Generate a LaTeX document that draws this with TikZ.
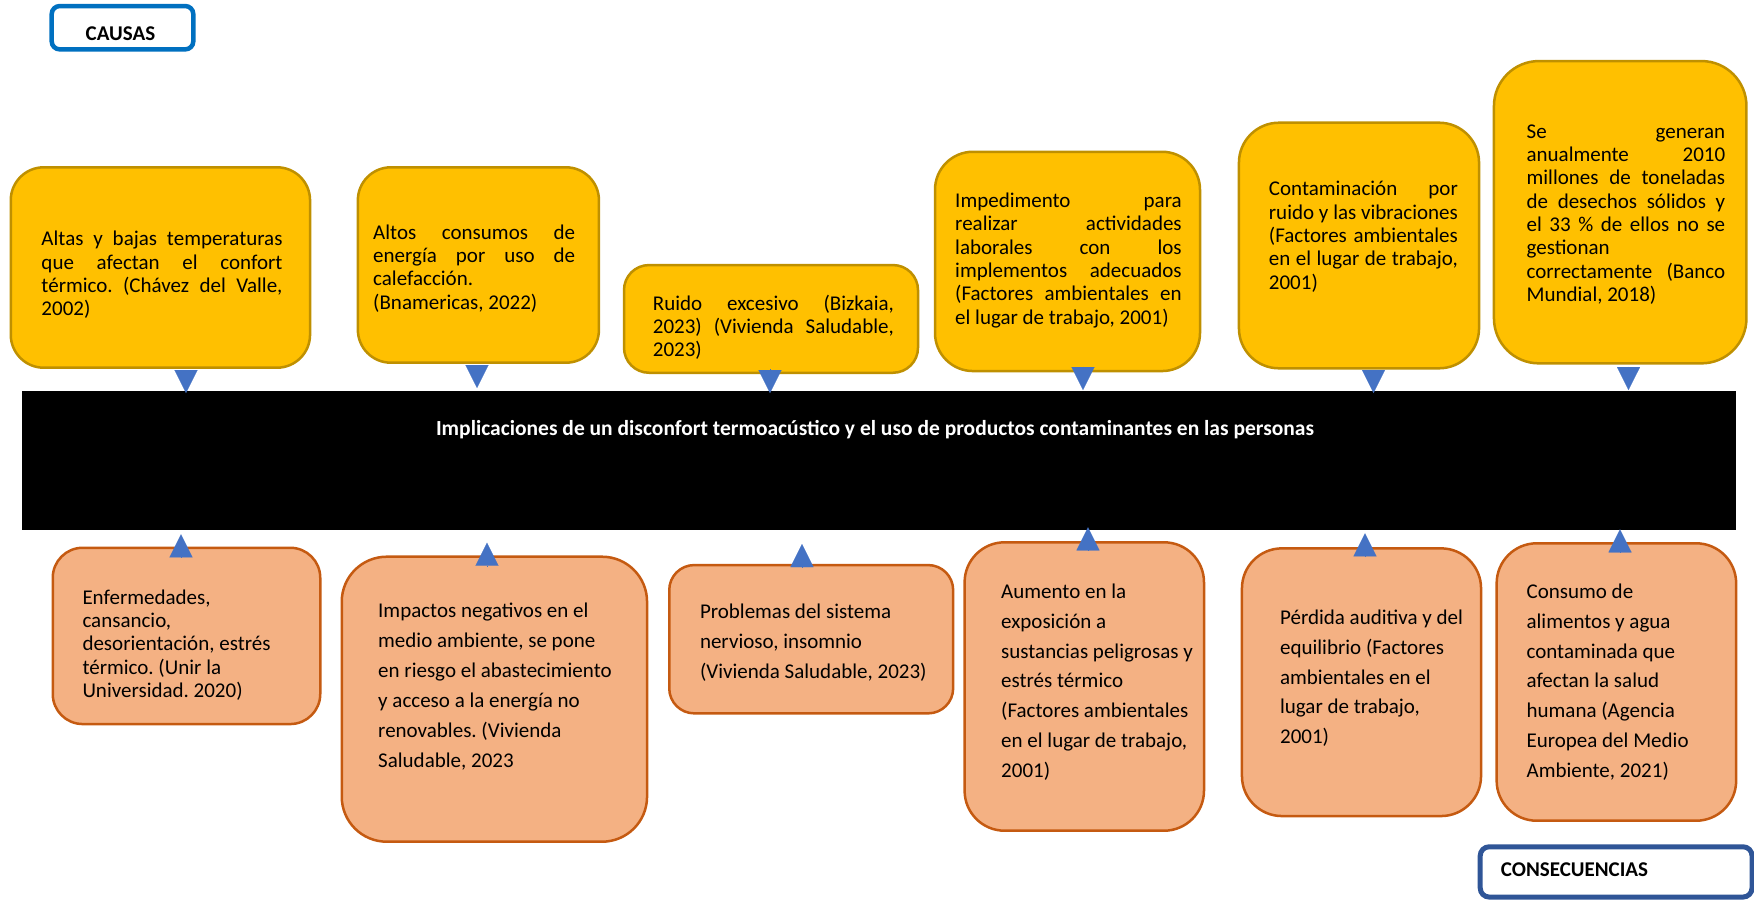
\documentclass[tikz,border=0pt]{standalone}
\usepackage{fontspec}
\setmainfont{Carlito}
\usetikzlibrary{arrows.meta}
\definecolor{topfill}{HTML}{FFC000}
\definecolor{topdraw}{HTML}{BF9000}
\definecolor{botfill}{HTML}{F4B183}
\definecolor{botdraw}{HTML}{C55A11}
\definecolor{tricol}{HTML}{4472C4}
\definecolor{causasblue}{HTML}{0070C0}
\definecolor{consblue}{HTML}{2F5597}
\hbadness=10000
\hfuzz=60pt
\frenchspacing
\newcommand\jline[2]{\makebox[#1pt][s]{#2}}
\begin{document}
\begin{tikzpicture}[x=1pt,y=-1pt,
  topbox/.style={draw=topdraw, fill=topfill, line width=2.5pt, inner sep=0pt, outer sep=0pt},
  botbox/.style={draw=botdraw, fill=botfill, line width=2.5pt, inner sep=0pt, outer sep=0pt},
  ttxt/.style={anchor=base west, inner sep=0pt, font=\fontsize{21}{23.3}\selectfont},
  btxt/.style={anchor=base west, inner sep=0pt, font=\fontsize{21}{29.9}\selectfont},
  tri/.style={draw=tricol, fill=tricol, line width=0.1pt, -{Triangle[length=23pt,width=23pt]}},
  lbl/.style={inner sep=0pt, font=\bfseries\fontsize{21}{25}\selectfont}
]
\useasboundingbox (0,0) rectangle (1754,900);

% labels
\node[draw=causasblue, line width=4.5pt, fill=white, rounded corners=8pt, minimum width=141.6pt, minimum height=43.3pt, inner sep=0pt] (causas) at (122.5,27.7) {};
\node[lbl, anchor=base] (causast) at (120.5,40.7) {CAUSAS};
\node[draw=consblue, line width=5pt, fill=white, rounded corners=9pt, minimum width=271.8pt, minimum height=50.3pt, inner sep=0pt] (cons) at (1616.1,871.9) {};
\node[lbl, anchor=base west] (const) at (1500.7,876) {CONSECUENCIAS};

% central bar
\node[fill=black, minimum width=1714pt, minimum height=139pt, inner sep=0pt, outer sep=0pt] (bar) at (879,460.5) {};
\node[lbl, anchor=base, text=white, font=\bfseries\fontsize{21.5}{25}\selectfont] (title) at (875,435.5) {Implicaciones de un disconfort termoacústico y el uso de productos contaminantes en las personas};

% causes (top)
\node[topbox, minimum width=299.3pt, minimum height=200.4pt, rounded corners=33pt] (c1) at (160.4,267.5) {};
\node[topbox, minimum width=241.1pt, minimum height=195.4pt, rounded corners=33pt] (c2) at (478.4,265) {};
\node[topbox, minimum width=294pt, minimum height=107.7pt, rounded corners=25pt] (c3) at (771,318.9) {};
\node[topbox, minimum width=265pt, minimum height=219.3pt, rounded corners=38pt] (c4) at (1067.5,261.4) {};
\node[topbox, minimum width=240.1pt, minimum height=245.6pt, rounded corners=40pt] (c5) at (1359,245.5) {};
\node[topbox, minimum width=252.5pt, minimum height=302.3pt, rounded corners=45pt] (c6) at (1620.2,212.2) {};

\node[ttxt] (c1t) at (41.3,245.8) {\begin{tabular}[t]{@{}l@{}}\jline{241}{Altas y bajas temperaturas}\\ \jline{241}{que afectan el confort}\\ \jline{241}{térmico. (Chávez del Valle,}\\ 2002)\end{tabular}};
\node[ttxt] (c2t) at (373,239.2) {\begin{tabular}[t]{@{}l@{}}\jline{202}{Altos consumos de}\\ \jline{202}{energía por uso de}\\ calefacción.\\ (Bnamericas, 2022)\end{tabular}};
\node[ttxt] (c3t) at (652.7,310.2) {\begin{tabular}[t]{@{}l@{}}\jline{241}{Ruido excesivo (Bizkaia,}\\ \jline{241}{2023) (Vivienda Saludable,}\\ 2023)\end{tabular}};
\node[ttxt] (c4t) at (955,207.5) {\begin{tabular}[t]{@{}l@{}}\jline{226.5}{Impedimento para}\\ \jline{226.5}{realizar actividades}\\ \jline{226.5}{laborales con los}\\ \jline{226.5}{implementos adecuados}\\ \jline{226.5}{(Factores ambientales en}\\ el lugar de trabajo, 2001)\end{tabular}};
\node[ttxt] (c5t) at (1268.7,195.8) {\begin{tabular}[t]{@{}l@{}}\jline{189}{Contaminación por}\\ \jline{189}{ruido y las vibraciones}\\ \jline{189}{(Factores ambientales}\\ \jline{189}{en el lugar de trabajo,}\\ 2001)\end{tabular}};
\node[ttxt] (c6t) at (1526.4,138.2) {\begin{tabular}[t]{@{}l@{}}\jline{198.6}{Se generan}\\ \jline{198.6}{anualmente 2010}\\ \jline{198.6}{millones de toneladas}\\ \jline{198.6}{de desechos sólidos y}\\ \jline{198.6}{el 33 \% de ellos no se}\\ gestionan\\ \jline{198.6}{correctamente (Banco}\\ Mundial, 2018)\end{tabular}};

% consequences (bottom)
\node[botbox, minimum width=267.5pt, minimum height=176.3pt, rounded corners=30pt] (e1) at (186.5,635.9) {};
\node[botbox, minimum width=305.3pt, minimum height=285pt, rounded corners=45pt] (e2) at (494.4,699.2) {};
\node[botbox, minimum width=283.9pt, minimum height=148.3pt, rounded corners=25pt] (e3) at (811.2,639.2) {};
\node[botbox, minimum width=239.4pt, minimum height=288.4pt, rounded corners=40pt] (e4) at (1084.3,686.5) {};
\node[botbox, minimum width=239.1pt, minimum height=267.7pt, rounded corners=40pt] (e5) at (1361.5,682.2) {};
\node[botbox, minimum width=239.5pt, minimum height=277.4pt, rounded corners=40pt] (e6) at (1616.4,682) {};

\node[ttxt] (e1t) at (82.3,604.2) {\begin{tabular}[t]{@{}l@{}}Enfermedades,\\ cansancio,\\ desorientación, estrés\\ térmico. (Unir la\\ Universidad. 2020)\end{tabular}};
\node[btxt] (e2t) at (378,617.5) {\begin{tabular}[t]{@{}l@{}}Impactos negativos en el\\ medio ambiente, se pone\\ en riesgo el abastecimiento\\ y acceso a la energía no\\ renovables. (Vivienda\\ Saludable, 2023\end{tabular}};
\node[btxt] (e3t) at (699.8,618.2) {\begin{tabular}[t]{@{}l@{}}Problemas del sistema\\ nervioso, insomnio\\ (Vivienda Saludable, 2023)\end{tabular}};
\node[btxt] (e4t) at (1001,598.2) {\begin{tabular}[t]{@{}l@{}}Aumento en la\\ exposición a\\ sustancias peligrosas y\\ estrés térmico\\ (Factores ambientales\\ en el lugar de trabajo,\\ 2001)\end{tabular}};
\node[btxt] (e5t) at (1279.9,624.2) {\begin{tabular}[t]{@{}l@{}}Pérdida auditiva y del\\ equilibrio (Factores\\ ambientales en el\\ lugar de trabajo,\\ 2001)\end{tabular}};
\node[btxt] (e6t) at (1526.4,598.2) {\begin{tabular}[t]{@{}l@{}}Consumo de\\ alimentos y agua\\ contaminada que\\ afectan la salud\\ humana (Agencia\\ Europea del Medio\\ Ambiente, 2021)\end{tabular}};

% triangles: causes -> bar
\draw[tri] ([shift={(25.6,3)}]c1.south) -- ++(0,22.3);
\draw[tri] ([shift={(-1.4,2.3)}]c2.south) -- ++(0,23);
\draw[tri] ([shift={(-1,-3.7)}]c3.south) -- ++(0,24);
\draw[tri] ([shift={(15.5,-4.3)}]c4.south) -- ++(0,23.3);
\draw[tri] ([shift={(14.5,1.7)}]c5.south) -- ++(0,23);
\draw[tri] ([shift={(8.3,3.4)}]c6.south) -- ++(0,23.3);

% triangles: consequences -> bar
\draw[tri] ([shift={(-5.5,10)}]e1.north) -- ++(0,-23.4);
\draw[tri] ([shift={(-7.4,9)}]e2.north) -- ++(0,-23);
\draw[tri] ([shift={(-9.2,1.7)}]e3.north) -- ++(0,-22.7);
\draw[tri] ([shift={(3.7,7.7)}]e4.north) -- ++(0,-22.7);
\draw[tri] ([shift={(3.5,8.4)}]e5.north) -- ++(0,-23.4);
\draw[tri] ([shift={(3.6,9)}]e6.north) -- ++(0,-23);
\end{tikzpicture}
\end{document}
